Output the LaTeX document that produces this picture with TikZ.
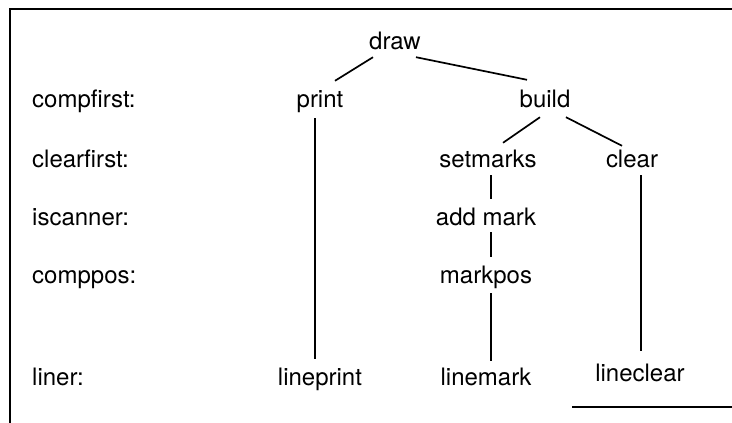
\documentclass[tikz,border=0pt]{standalone}
\usepackage{fontspec}
\setmainfont{TeX Gyre Heros}
\begin{document}
\begin{tikzpicture}[x=1pt,y=-1pt,
  lbl/.style={font=\fontsize{24}{27}\selectfont, inner sep=0pt, text height=17pt, text depth=0pt, anchor=base},
  rowlbl/.style={lbl, anchor=base west},
  conn/.style={line width=1.7pt},
  frame/.style={line width=2.2pt}]
\useasboundingbox (0,0) rectangle (732,423);
% frame
\coordinate (ftr) at (732,9);
\coordinate (ftl) at (10,9);
\coordinate (fbl) at (10,423);
\coordinate (fbs) at (572,407);
\coordinate (fbe) at (732,407);
\draw[frame] (ftr) -- (ftl) -- (fbl);
\draw[frame] (fbs) -- (fbe);
% row labels
\node[rowlbl] (rcf) at (32,107) {compfirst:};
\node[rowlbl] (rcl) at (32,167) {clearfirst:};
\node[rowlbl] (ris) at (32,225) {iscanner:};
\node[rowlbl] (rcp) at (32,283) {comppos:};
\node[rowlbl] (rln) at (32,385) {liner:};
% tree
\node[lbl] (draw) at (395,49) {draw};
\node[lbl] (print) at (320,107) {print};
\node[lbl] (build) at (545,107) {build};
\node[lbl] (setmarks) at (488,167) {setmarks};
\node[lbl] (clear) at (632,167) {clear};
\node[lbl] (addmark) at (486,225) {add mark};
\node[lbl] (markpos) at (486,283) {markpos};
\node[lbl] (lineprint) at (320,385) {lineprint};
\node[lbl] (linemark) at (486,385) {linemark};
\node[lbl] (lineclear) at (640,381) {lineclear};
% connectors
\draw[conn] ([xshift=-22pt,yshift=-8pt]draw.south) -- ([xshift=15pt,yshift=9pt]print.north);
\draw[conn] ([xshift=21pt,yshift=-8pt]draw.south) -- ([xshift=-18pt,yshift=10pt]build.north);
\draw[conn] ([xshift=-5pt,yshift=-10pt]build.south) -- ([xshift=15pt,yshift=7pt]setmarks.north);
\draw[conn] ([xshift=21pt,yshift=-10pt]build.south) -- ([xshift=-10pt,yshift=4pt]clear.north);
\draw[conn] ([xshift=3pt,yshift=-8pt]setmarks.south) -- ([xshift=5pt,yshift=9pt]addmark.north);
\draw[conn] ([xshift=5pt,yshift=-7pt]addmark.south) -- ([xshift=5pt,yshift=9pt]markpos.north);
\draw[conn] ([xshift=5pt,yshift=-10pt]markpos.south) -- ([xshift=5pt,yshift=7pt]linemark.north);
\draw[conn] ([xshift=-5pt,yshift=-11pt]print.south) -- ([xshift=-5pt,yshift=9pt]lineprint.north);
\draw[conn] ([xshift=9pt,yshift=-8pt]clear.south) -- ([xshift=1pt,yshift=13pt]lineclear.north);
\end{tikzpicture}
\end{document}
